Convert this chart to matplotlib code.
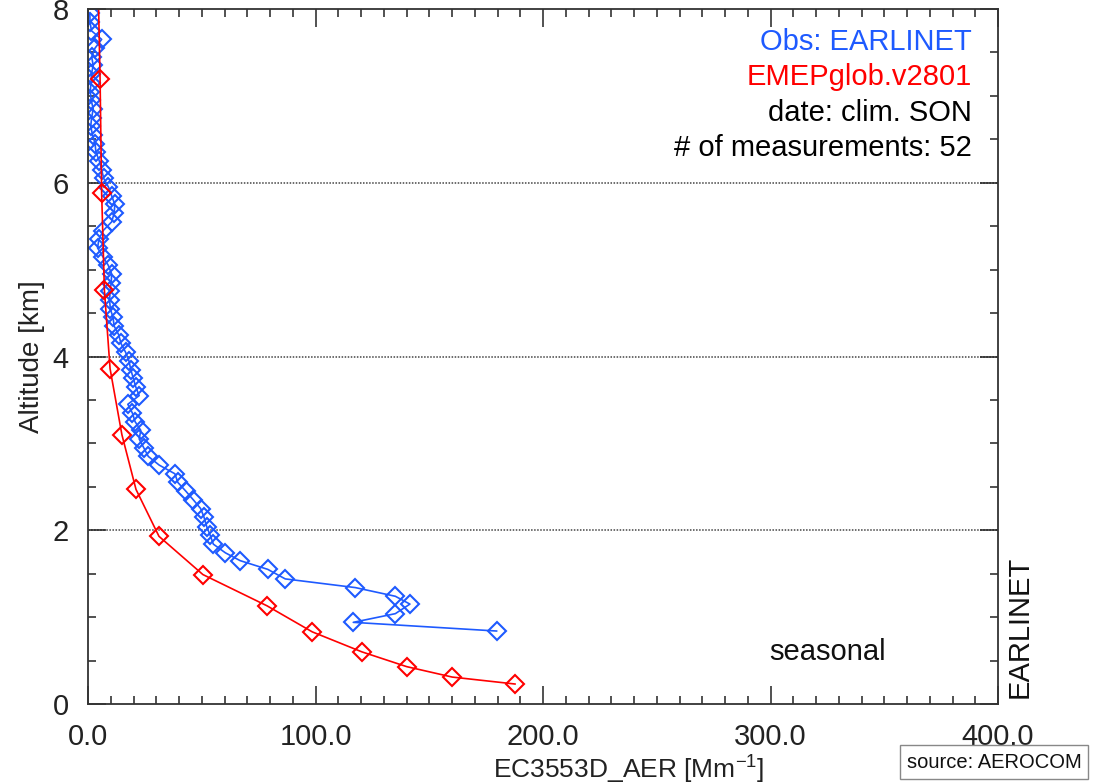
"""Vertical extinction profile: EARLINET obs vs EMEPglob model (SON climatology)."""

import matplotlib
matplotlib.use('Agg')
import matplotlib.pyplot as plt
from matplotlib.ticker import MultipleLocator

plt.rcParams['font.family'] = ['Liberation Sans', 'DejaVu Sans']
plt.rcParams['mathtext.default'] = 'regular'

# --- data ---
obs_alt = [0.84, 0.94, 1.04, 1.15, 1.24, 1.34, 1.44, 1.55, 1.65, 1.74,
           1.84, 1.95, 2.04, 2.15, 2.25, 2.35, 2.45, 2.55, 2.65, 2.75,
           2.85, 2.95, 3.05, 3.15, 3.25, 3.35, 3.45, 3.55, 3.65, 3.75,
           3.85, 3.95, 4.05, 4.15, 4.25, 4.35, 4.45, 4.55, 4.65, 4.75,
           4.85, 4.95, 5.05, 5.15, 5.25, 5.35, 5.45, 5.55, 5.65, 5.75,
           5.85, 5.95, 6.05, 6.15, 6.25, 6.35, 6.45, 6.55, 6.65, 6.75,
           6.85, 6.95, 7.05, 7.15, 7.25, 7.35, 7.45, 7.55, 7.65, 7.75,
           7.85, 7.95]
obs_ext = [179.6, 116.6, 135.1, 141.5, 135.1, 117.5, 86.7, 79.0, 66.9, 60.4,
           55.1, 53.6, 52.2, 51.0, 49.5, 46.3, 43.0, 39.5, 38.2, 31.3,
           26.5, 24.5, 22.5, 23.2, 20.7, 19.5, 17.5, 22.5, 21.0, 19.9,
           18.8, 18.0, 16.5, 14.5, 13.5, 11.5, 11.0, 9.8, 9.5, 9.7,
           10.2, 10.4, 8.9, 6.5, 4.2, 4.8, 6.7, 10.4, 11.5, 11.8,
           10.4, 9.0, 6.9, 6.0, 5.0, 3.5, 3.1, 2.0, 1.2, 1.6,
           2.3, 1.4, 1.0, 1.3, 1.5, 2.3, 1.6, 3.1, 6.0, 1.5,
           0.9, 0.8]

mod_alt = [0.23, 0.31, 0.43, 0.60, 0.83, 1.13, 1.49, 1.93, 2.47, 3.10,
           3.86, 4.77, 5.88, 7.20, 8.60]
mod_ext = [187.7, 160.1, 140.1, 120.4, 98.6, 78.7, 50.5, 31.2, 21.1, 14.9,
           9.7, 7.2, 6.0, 5.3, 4.2]

x_ticks = [0, 100, 200, 300, 400]
x_ticklabels = ['0.0', '100.0', '200.0', '300.0', '400.0']
y_ticks = [0, 2, 4, 6, 8]

obs_color = '#1e5aff'
mod_color = '#ff0000'

W, H = 1101, 784
fig = plt.figure(figsize=(W / 100, H / 100), dpi=100)
ax = fig.add_axes([88 / W, 80 / H, 910 / W, 695 / H])

ax.plot(obs_ext, obs_alt, color=obs_color, lw=1.2, marker='D', ms=9,
        mfc='none', mec=obs_color, mew=1.5)
ax.plot(mod_ext, mod_alt, color=mod_color, lw=1.2, marker='D', ms=9,
        mfc='none', mec=mod_color, mew=1.5)

ax.set_xlim(0, 400)
ax.set_ylim(0, 8)
ax.set_xticks(x_ticks)
ax.set_xticklabels(x_ticklabels)
ax.set_yticks(y_ticks)
ax.xaxis.set_minor_locator(MultipleLocator(10))
ax.yaxis.set_minor_locator(MultipleLocator(0.5))
ax.tick_params(which='both', direction='in', top=True, right=True,
               labelsize=21, colors='#222222', width=1.1)
ax.tick_params(which='major', length=13, pad=14)
ax.tick_params(which='minor', length=6)
for sp in ax.spines.values():
    sp.set_linewidth(1.3)
    sp.set_color('#333333')

for yv in (2, 4, 6):
    ax.axhline(yv, color='#444444', lw=1.1, ls=(0, (1, 1)), zorder=0)

ax.set_xlabel('EC3553D_AER [Mm$^{-1}$]', fontsize=19, color='#222222')
ax.set_ylabel('Altitude [km]', fontsize=20, color='#222222', labelpad=5)
ax.xaxis.set_label_coords(541 / 910, -50 / 695)

# legend-like text block in the upper right
tx = (972 - 88) / 910
for ypix, txt, col in [(42, 'Obs: EARLINET', obs_color),
                       (77, 'EMEPglob.v2801', mod_color),
                       (113, 'date: clim. SON', 'black'),
                       (148, '# of measurements: 52', 'black')]:
    ax.text(tx, (704 - ypix) / 695, txt, transform=ax.transAxes, ha='right',
            va='center', fontsize=21, color=col)

ax.text((828 - 88) / 910, (704 - 652) / 695, 'seasonal', transform=ax.transAxes,
        ha='center', va='center', fontsize=21, color='#111111')

fig.text(1020 / W, 1 - 627 / H, 'EARLINET', rotation=90, ha='center',
         va='center', fontsize=21, color='#111111')

fig.text(994 / W, 1 - 762 / H, 'source: AEROCOM', ha='center', va='center',
         fontsize=14.5, color='#111111',
         bbox=dict(boxstyle='square,pad=0.35', fc='white', ec='#888888', lw=1))

fig.savefig('out.png', dpi=100)
